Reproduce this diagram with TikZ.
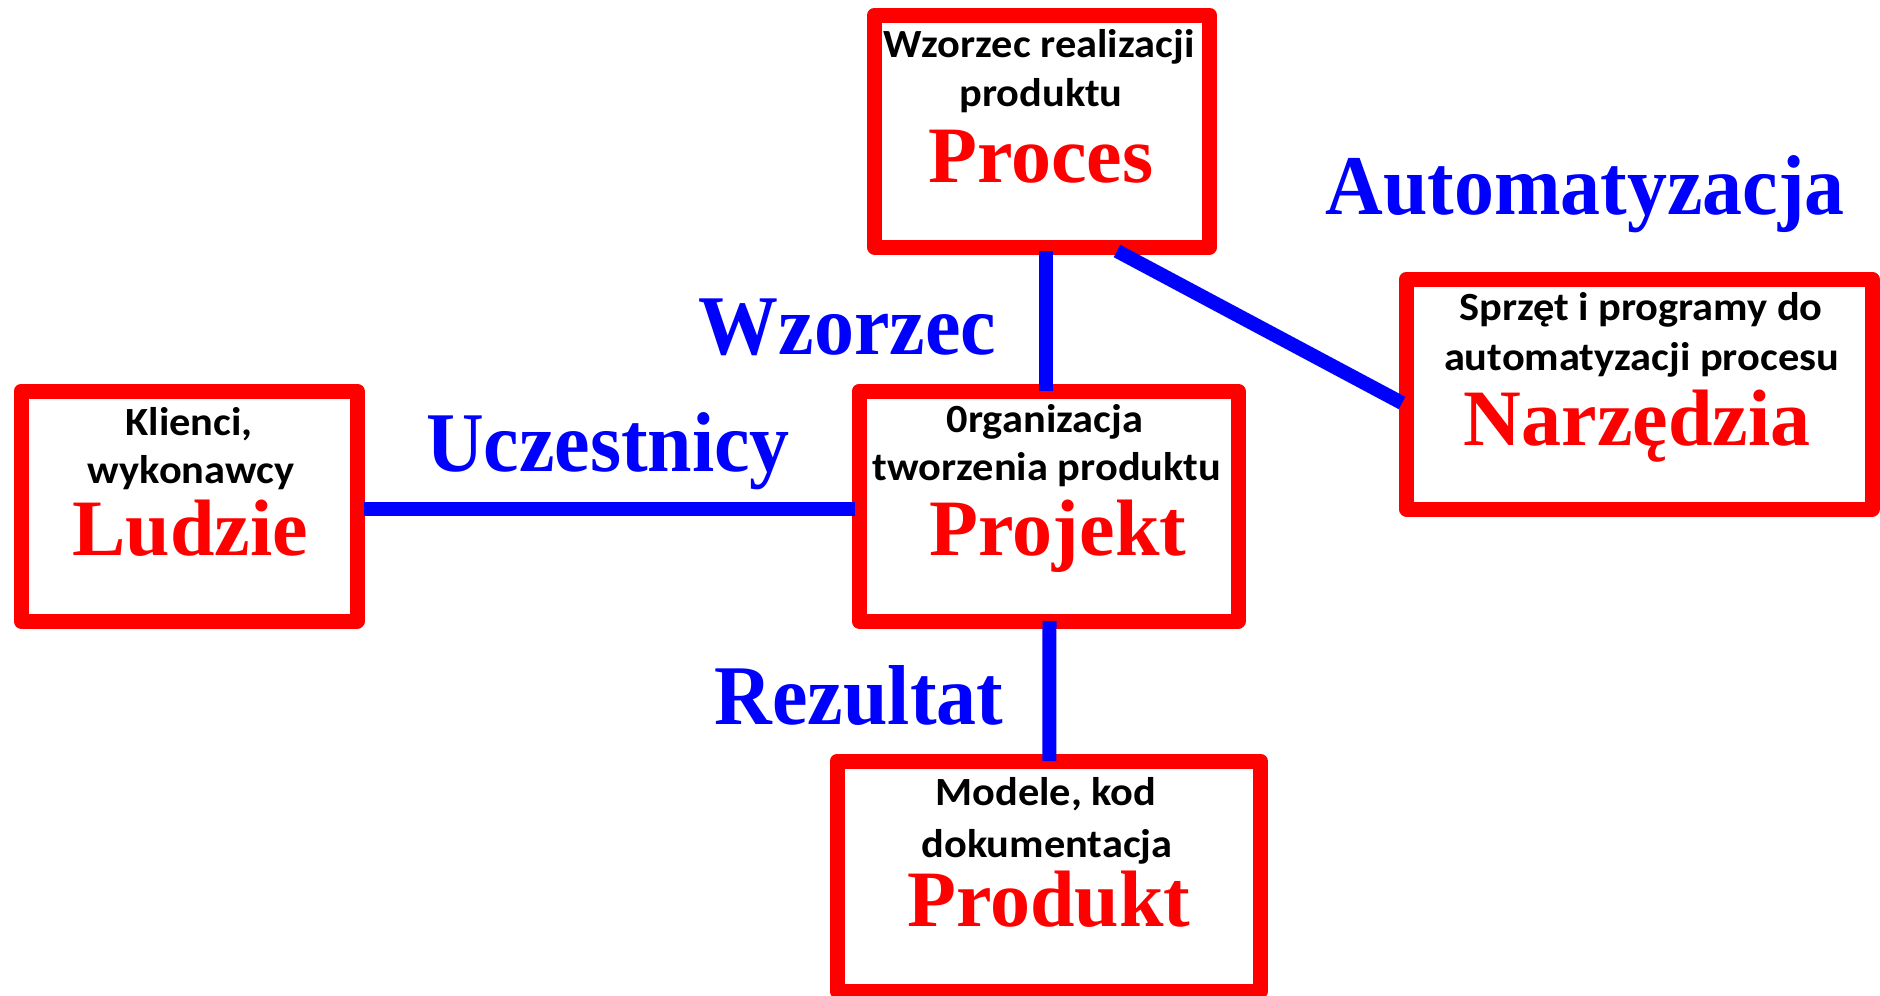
\documentclass[tikz,border=0pt]{standalone}
\usepackage{fontspec}
\newfontfamily\labelfont{Carlito}[FakeStretch=1.06]
\newfontfamily\titlefont{Liberation Serif}
\newfontfamily\linkfont{Liberation Serif}[FakeStretch=0.94]
\definecolor{boxred}{RGB}{255,0,0}
\definecolor{linkblue}{RGB}{0,0,255}
\begin{document}
\begin{tikzpicture}[x=1pt,y=-1pt,
  box/.style={draw=boxred, line width=15pt, line join=round, rectangle,
    inner sep=0pt, outer sep=0pt},
  sub/.style={anchor=base, inner sep=0pt,
    font=\labelfont\bfseries\fontsize{40}{40}\selectfont},
  title/.style={anchor=base, inner sep=0pt, text=boxred,
    font=\titlefont\bfseries\fontsize{80}{80}\selectfont},
  link/.style={anchor=base, inner sep=0pt, text=linkblue,
    font=\linkfont\bfseries\fontsize{85}{85}\selectfont},
  conn/.style={draw=linkblue, line width=14pt}]
\useasboundingbox (0,0) rectangle (1880,996);

% boxes
\node[box, minimum width=335pt, minimum height=232pt] (proc) at (1042,131) {};
\node[box, minimum width=336pt, minimum height=230pt] (ludz) at (189,506) {};
\node[box, minimum width=379pt, minimum height=230pt] (proj) at (1048.5,506) {};
\node[box, minimum width=465.5pt, minimum height=230pt] (narz) at (1639.25,394) {};
\node[box, minimum width=423.5pt, minimum height=230pt] (prod) at (1048.75,876) {};

% connectors
\draw[conn] ([shift={(3.5,4)}]proc.south) -- ([shift={(-3,0)}]proj.north);
\draw[conn] ([shift={(7,3)}]ludz.east) -- ([shift={(-4,3)}]proj.west);
\draw[conn] ([shift={(1,0)}]proj.south) -- ([shift={(0.5,0)}]prod.north);
\draw[conn] ([shift={(75,4)}]proc.south) -- ([shift={(-4.5,9)}]narz.west);

% box texts
\node[sub] (procA) at (1039,57) {Wzorzec realizacji};
\node[sub] (procB) at (1041,106) {produktu};
\node[title] (procT) at (1041,182) {Proces};

\node[sub] (ludzA) at (189,435) {Klienci,};
\node[sub] (ludzB) at (191,483) {wykonawcy};
\node[title] (ludzT) at (190,555) {Ludzie};

\node[sub] (projA) at (1045,432) {0rganizacja};
\node[sub] (projB) at (1047,480) {tworzenia produktu};
\node[title] (projT) at (1058,555) {Projekt};

\node[sub] (narzA) at (1641,320) {Sprzęt i programy do};
\node[sub] (narzB) at (1641.5,370) {automatyzacji procesu};
\node[title] (narzT) at (1637,445) {Narzędzia};

\node[sub] (prodA) at (1046,805) {Modele, kod};
\node[sub] (prodB) at (1047,857) {dokumentacja};
\node[title] (prodT) at (1049,926) {Produkt};

% connector labels
\node[link] (lAuto) at (1585,214) {Automatyzacja};
\node[link] (lWz) at (847.5,354) {Wzorzec};
\node[link] (lUcz) at (608,471) {Uczestnicy};
\node[link] (lRez) at (859,724) {Rezultat};
\end{tikzpicture}
\end{document}
